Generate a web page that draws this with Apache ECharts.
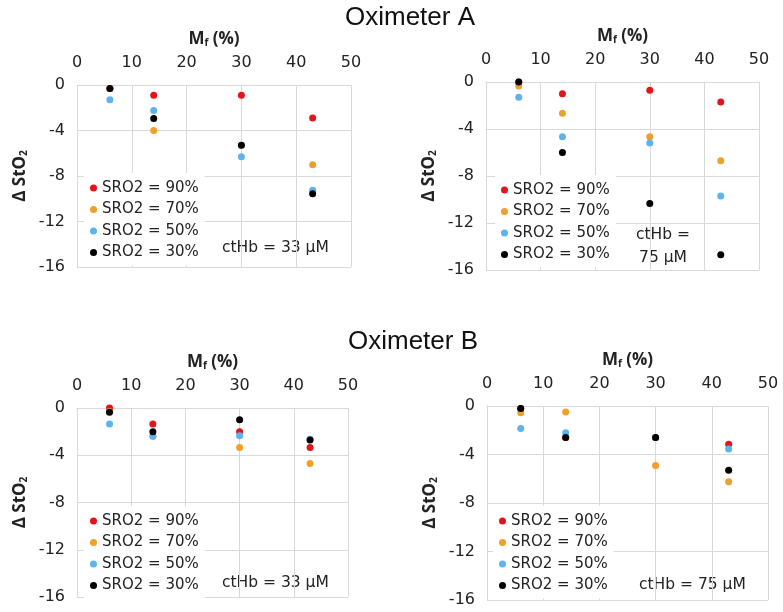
<!DOCTYPE html>
<html><head><meta charset="utf-8">
<script src="https://cdn.jsdelivr.net/npm/echarts@6/dist/echarts.min.js"></script>
<style>html,body{margin:0;padding:0;background:#fff}#c{width:783px;height:612px}</style>
</head><body><div id="c"></div>
<script>
const mfValues = [6, 14, 30, 43];
const seriesNames = ['SRO2 = 90%', 'SRO2 = 70%', 'SRO2 = 50%', 'SRO2 = 30%'];
const xTicks = [0, 10, 20, 30, 40, 50];
const yTicks = [0, -4, -8, -12, -16];
// Oximeter A, ctHb = 33 µM
const a33_90 = [-0.3, -0.9, -0.9, -2.9];
const a33_70 = [-0.3, -4.0, -5.3, -7.0];
const a33_50 = [-1.3, -2.25, -6.3, -9.25];
const a33_30 = [-0.3, -2.95, -5.3, -9.55];
// Oximeter A, ctHb = 75 µM
const a75_90 = [0, -1.0, -0.7, -1.7];
const a75_70 = [-0.35, -2.65, -4.65, -6.7];
const a75_50 = [-1.3, -4.65, -5.2, -9.7];
const a75_30 = [0, -6.0, -10.35, -14.7];
// Oximeter B, ctHb = 33 µM
const b33_90 = [0, -1.35, -2.0, -3.35];
const b33_70 = [-0.3, -2.4, -3.35, -4.7];
const b33_50 = [-1.35, -2.4, -2.35, -2.65];
const b33_30 = [-0.35, -2.0, -1.0, -2.7];
// Oximeter B, ctHb = 75 µM
const b75_90 = [-0.2, -2.6, -2.6, -3.15];
const b75_70 = [-0.55, -0.5, -4.9, -6.25];
const b75_50 = [-1.85, -2.2, -2.6, -3.55];
const b75_30 = [-0.2, -2.6, -2.6, -5.3];

const panels = [
  [a33_90, a33_70, a33_50, a33_30],
  [a75_90, a75_70, a75_50, a75_30],
  [b33_90, b33_70, b33_50, b33_30],
  [b75_90, b75_70, b75_50, b75_30]
];
const colors = ['#e5131b', '#f0a02a', '#5db3ef', '#000000'];
const FONT = 'DejaVu Sans';
const BFONT = 'Open Sans';

const grids = [
  {left: 77, top: 85, width: 274, height: 182},
  {left: 486, top: 82, width: 273, height: 188},
  {left: 77, top: 408, width: 271, height: 189},
  {left: 487, top: 406, width: 281, height: 194}
];
const gridColor = '#d9d9d9';
const xAxes = grids.map((g, i) => ({
  gridIndex: i, type: 'value', position: 'top', min: xTicks[0], max: xTicks[xTicks.length - 1], interval: 10,
  name: '{b|M}{s|f}{b| (%)}', nameLocation: 'middle', nameGap: 37,
  nameTextStyle: {rich: {b: {fontFamily: BFONT, fontWeight: 'bold', fontSize: 17, color: '#222'},
                         s: {fontFamily: BFONT, fontWeight: 'bold', fontSize: 10, color: '#222', verticalAlign: 'bottom', padding: [8, 0, 0, 0]}}},
  axisLine: {show: true, lineStyle: {color: gridColor}}, axisTick: {show: false},
  axisLabel: {fontFamily: FONT, fontSize: 16, color: '#222', margin: 14},
  splitLine: {show: true, lineStyle: {color: gridColor}}
}));
const yAxes = grids.map((g, i) => ({
  gridIndex: i, type: 'value', min: yTicks[yTicks.length - 1], max: yTicks[0], interval: 4,
  name: '{b|Δ StO}{s|2}', nameLocation: 'middle', nameRotate: 90, nameGap: 48,
  nameTextStyle: {rich: {b: {fontFamily: BFONT, fontWeight: 'bold', fontSize: 17, color: '#222'},
                         s: {fontFamily: BFONT, fontWeight: 'bold', fontSize: 10, color: '#222', padding: [8, 0, 0, 0]}}},
  axisLine: {show: true, lineStyle: {color: gridColor}}, axisTick: {show: false},
  axisLabel: {fontFamily: FONT, fontSize: 16, color: '#222', margin: 12},
  splitLine: {show: true, lineStyle: {color: gridColor}}
}));
const series = [];
panels.forEach((p, i) => {
  p.forEach((vals, k) => {
    series.push({
      type: 'scatter', name: seriesNames[k], xAxisIndex: i, yAxisIndex: i,
      symbolSize: 7, itemStyle: {color: colors[k], opacity: 1},
      data: mfValues.map((x, j) => [x, vals[j]])
    });
  });
});
const legendPos = [[84, 173], [495, 175], [84, 506], [493, 506]];
const legends = legendPos.map(pos => ({
  data: seriesNames, orient: 'vertical', left: pos[0], top: pos[1],
  icon: 'circle', itemWidth: 7, itemHeight: 7, itemGap: 3.5,
  backgroundColor: '#fff', padding: [6, 6, 4, 6],
  textStyle: {fontFamily: FONT, fontSize: 15, color: '#222', lineHeight: 18}
}));
const txt = (x, y, s) => ({type: 'text', left: x, top: y,
  style: {text: s, fontFamily: FONT, fontSize: 15.5, fill: '#222', backgroundColor: '#fff'}});
const option = {
  animation: false,
  color: colors,
  grid: grids,
  xAxis: xAxes,
  yAxis: yAxes,
  legend: legends,
  series: series,
  graphic: [
    {type: 'text', x: 410, y: 18, style: {text: 'Oximeter A', fontFamily: 'Liberation Sans', fontSize: 26, fill: '#111', textAlign: 'center', textVerticalAlign: 'middle'}},
    {type: 'text', x: 413, y: 342, style: {text: 'Oximeter B', fontFamily: 'Liberation Sans', fontSize: 26, fill: '#111', textAlign: 'center', textVerticalAlign: 'middle'}},
    txt(222, 240, 'ctHb = 33 µM'),
    {type: 'text', x: 663, y: 246, style: {text: 'ctHb =\n75 µM', fontFamily: FONT, fontSize: 15.5, lineHeight: 23, fill: '#222', backgroundColor: '#fff', textAlign: 'center', textVerticalAlign: 'middle'}},
    txt(222, 575, 'ctHb = 33 µM'),
    txt(639, 577, 'ctHb = 75 µM')
  ]
};
echarts.init(document.getElementById('c')).setOption(option);
</script></body></html>
